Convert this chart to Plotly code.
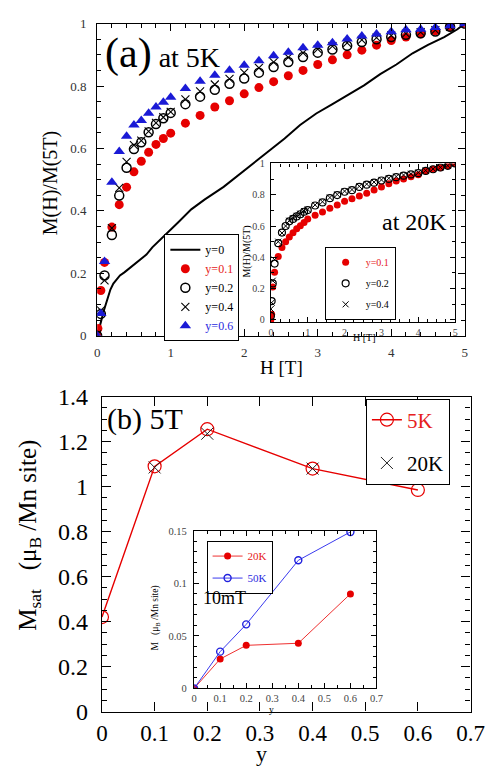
import plotly.graph_objects as go

W, H = 497, 770
FONT = "Liberation Serif, Times New Roman, serif"
RED = "#e60000"
BLUE = "#1a1ad6"

# ---------------- panel (a): M(H)/M(5T) at 5K ----------------
h_line = [0, 0.02, 0.05, 0.09, 0.13, 0.18, 0.22, 0.28, 0.31, 0.37, 0.45, 0.57, 0.67, 0.75,
          0.85, 0.95, 1.1, 1.28, 1.46, 1.72, 1.9, 2.1, 2.33, 2.55, 2.76, 2.98, 3.2, 3.42,
          3.63, 3.85, 4.07, 4.29, 4.5, 4.72, 4.9, 5.0]
m_y0 = [0, 0.015, 0.043, 0.08, 0.112, 0.148, 0.167, 0.183, 0.193, 0.203, 0.218, 0.24, 0.26,
        0.283, 0.305, 0.328, 0.363, 0.405, 0.436, 0.477, 0.51, 0.549, 0.59, 0.632, 0.675,
        0.712, 0.742, 0.772, 0.802, 0.838, 0.869, 0.905, 0.932, 0.957, 0.982, 1.0]

h_pts = [0, 0.05, 0.1, 0.2, 0.3, 0.4, 0.5, 0.6, 0.7, 0.8, 0.9, 1.0, 1.2, 1.4, 1.6, 1.8, 2.0,
         2.2, 2.4, 2.6, 2.8, 3.0, 3.2, 3.4, 3.6, 3.8, 4.0, 4.2, 4.4, 4.6, 4.8, 5.0]
h_red = [0, 0.01] + h_pts[1:]
m_y01 = [0.0, 0.023, 0.145, 0.235, 0.348, 0.42, 0.476, 0.525, 0.559, 0.588, 0.613, 0.632, 0.649,
         0.681, 0.706, 0.733, 0.753, 0.775, 0.795, 0.814, 0.833, 0.85, 0.869, 0.884, 0.9,
         0.915, 0.931, 0.946, 0.957, 0.967, 0.977, 0.99, 1.0]
m_y02 = [0.0, 0.07, 0.193, 0.323, 0.449, 0.538, 0.598, 0.62, 0.652, 0.678, 0.697, 0.714, 0.742,
         0.766, 0.788, 0.807, 0.824, 0.843, 0.861, 0.877, 0.893, 0.907, 0.917, 0.929, 0.941,
         0.95, 0.957, 0.964, 0.969, 0.975, 0.99, 1.0]
m_y04 = [0.004, 0.081, 0.177, 0.345, 0.474, 0.557, 0.611, 0.625, 0.655, 0.682, 0.70, 0.717,
         0.757, 0.783, 0.805, 0.823, 0.843, 0.858, 0.877, 0.892, 0.906, 0.918, 0.928, 0.938,
         0.948, 0.955, 0.962, 0.968, 0.973, 0.979, 0.99, 1.0]
m_y06 = [0.0, 0.071, 0.238, 0.492, 0.59, 0.639, 0.675, 0.69, 0.713, 0.733, 0.748, 0.764, 0.792,
         0.815, 0.835, 0.851, 0.867, 0.881, 0.897, 0.908, 0.923, 0.931, 0.939, 0.951, 0.96,
         0.967, 0.974, 0.98, 0.982, 0.988, 0.993, 1.0]

# inset (a): at 20K
h_in = [0, 0.02, 0.05, 0.1, 0.2, 0.3, 0.4, 0.5, 0.6, 0.7, 0.8, 0.9, 1.0, 1.2, 1.4, 1.6, 1.8,
        2.0, 2.2, 2.4, 2.6, 2.8, 3.0, 3.2, 3.4, 3.6, 3.8, 4.0, 4.2, 4.4, 4.6, 4.8, 5.0]
m20_y01 = [0.0, 0.035, 0.21, 0.305, 0.405, 0.463, 0.5, 0.53, 0.557, 0.582, 0.602, 0.623, 0.644,
           0.668, 0.69, 0.713, 0.735, 0.759, 0.775, 0.792, 0.81, 0.83, 0.85, 0.87, 0.887, 0.9,
           0.915, 0.928, 0.952, 0.963, 0.973, 0.984, 1.0]
m20_y02 = [0.025, 0.12, 0.233, 0.36, 0.49, 0.558, 0.6, 0.63, 0.645, 0.661, 0.675, 0.691, 0.702,
           0.731, 0.751, 0.778, 0.798, 0.819, 0.829, 0.85, 0.864, 0.877, 0.891, 0.901, 0.912,
           0.922, 0.93, 0.938, 0.952, 0.963, 0.974, 0.985, 1.0]
m20_y04 = [0.07, 0.11, 0.25, 0.385, 0.5, 0.555, 0.6, 0.634, 0.649, 0.665, 0.679, 0.695, 0.706,
           0.735, 0.755, 0.782, 0.802, 0.823, 0.833, 0.854, 0.868, 0.881, 0.895, 0.905, 0.916,
           0.926, 0.934, 0.942, 0.955, 0.965, 0.975, 0.986, 1.0]

# ---------------- panel (b): Msat at 5T ----------------
y_b = [0, 0.1, 0.2, 0.4, 0.6]
msat_5k = [0.42, 1.09, 1.255, 1.08, 0.985]
y_b20 = [0.1, 0.2, 0.4]
msat_20k = [1.085, 1.235, 1.08]

# inset (b): 10mT
y_in = [0, 0.1, 0.2, 0.4, 0.6]
m10_20k = [0, 0.028, 0.041, 0.043, 0.09]
m10_50k = [0, 0.035, 0.061, 0.122, 0.149]


def px(x):
    return x / W


def py(y):
    return 1 - y / H


fig = go.Figure()

# main (a)
fig.add_trace(go.Scatter(x=h_line, y=m_y0, mode="lines", name="y=0",
                         line=dict(color="black", width=2), xaxis="x", yaxis="y",
                         legend="legend"))
fig.add_trace(go.Scatter(x=h_red, y=m_y01, mode="markers",
                         name="<span style='color:#e62020'>y=0.1</span>",
                         marker=dict(symbol="circle", size=9, color=RED),
                         xaxis="x", yaxis="y", legend="legend"))
fig.add_trace(go.Scatter(x=h_pts, y=m_y02, mode="markers", name="y=0.2",
                         marker=dict(symbol="circle-open", size=9, color="black",
                                     line=dict(width=1.5)),
                         xaxis="x", yaxis="y", legend="legend"))
fig.add_trace(go.Scatter(x=h_pts, y=m_y04, mode="markers", name="y=0.4",
                         marker=dict(symbol="x-thin-open", size=8, color="black",
                                     line=dict(width=1.1)),
                         xaxis="x", yaxis="y", legend="legend"))
fig.add_trace(go.Scatter(x=h_pts, y=m_y06, mode="markers",
                         name="<span style='color:#2a2ae0'>y=0.6</span>",
                         marker=dict(symbol="triangle-up", size=10, color=BLUE),
                         xaxis="x", yaxis="y", legend="legend"))

# inset (a)
fig.add_trace(go.Scatter(x=h_in, y=m20_y01, mode="markers",
                         name="<span style='color:#e62020'>y=0.1</span>",
                         marker=dict(symbol="circle", size=7, color=RED),
                         xaxis="x2", yaxis="y2", legend="legend2", legendgroup="a",))
fig.add_trace(go.Scatter(x=h_in, y=m20_y02, mode="markers", name="y=0.2",
                         marker=dict(symbol="circle-open", size=7, color="black",
                                     line=dict(width=1.2)),
                         xaxis="x2", yaxis="y2", legend="legend2", legendgroup="b"))
fig.add_trace(go.Scatter(x=h_in, y=m20_y04, mode="markers", name="y=0.4",
                         marker=dict(symbol="x-thin-open", size=6, color="black",
                                     line=dict(width=1)),
                         xaxis="x2", yaxis="y2", legend="legend2", legendgroup="c"))

# main (b)
fig.add_trace(go.Scatter(x=y_b, y=msat_5k, mode="lines+markers",
                         name="<span style='color:#e62020'>5K</span>",
                         line=dict(color=RED, width=1.4),
                         marker=dict(symbol="circle-open", size=13, color=RED,
                                     line=dict(width=1.2)),
                         xaxis="x3", yaxis="y3", legend="legend3", legendgroup="d"))
fig.add_trace(go.Scatter(x=y_b20, y=msat_20k, mode="markers", name="20K",
                         marker=dict(symbol="x-thin-open", size=12, color="#222",
                                     line=dict(width=1)),
                         xaxis="x3", yaxis="y3", legend="legend3", legendgroup="e"))

# inset (b)
fig.add_trace(go.Scatter(x=y_in, y=m10_20k, mode="lines+markers",
                         name="<span style='color:#e62020'>20K</span>",
                         line=dict(color="#ee3030", width=1),
                         marker=dict(symbol="circle", size=7, color=RED),
                         xaxis="x4", yaxis="y4", legend="legend4", legendgroup="f"))
fig.add_trace(go.Scatter(x=y_in, y=m10_50k, mode="lines+markers",
                         name="<span style='color:#2a2ae0'>50K</span>",
                         line=dict(color="#3a3aee", width=1),
                         marker=dict(symbol="circle-open", size=7, color="#2020dd",
                                     line=dict(width=1.4)),
                         xaxis="x4", yaxis="y4", legend="legend4", legendgroup="g"))


def axis(domain, rng, dtick, mdtick, fs, color, anchor, ticklen=7, mlen=4, standoff=3):
    return dict(domain=domain, range=rng, dtick=dtick, tick0=0, anchor=anchor,
                showline=True, linecolor="black", linewidth=1.3, mirror="allticks",
                ticks="inside", ticklen=ticklen, tickwidth=1, tickcolor="black",
                minor=dict(dtick=mdtick, tick0=0, ticks="inside", ticklen=mlen,
                           tickcolor="black", tickwidth=1),
                showgrid=False, zeroline=False, fixedrange=True,
                tickfont=dict(family=FONT, size=fs, color=color),
                ticklabelstandoff=standoff)


layout = dict(
    width=W, height=H, autosize=False,
    margin=dict(l=0, r=0, t=0, b=0, pad=0),
    paper_bgcolor="white", plot_bgcolor="white",
    font=dict(family=FONT, color="black"),
    hovermode=False,
    xaxis=axis([px(95), px(478)], [0, 5], 1, 0.2, 13, "#333", "y", standoff=5),
    yaxis=axis([py(334), py(11)], [0, 1], 0.2, 0.05, 13, "#333", "x", standoff=7),
    xaxis2=axis([px(276), px(468)], [0, 5], 1, 0.25, 10, "#444", "y2", ticklen=5, mlen=3,
                standoff=1),
    yaxis2=axis([py(320), py(155.7)], [-0.015, 1], 0.2, 0.1, 10, "#444", "x2", ticklen=5,
                mlen=3, standoff=3),
    xaxis3=axis([px(100), px(484)], [0, 0.7], 0.1, 0.1, 23, "black", "y3", ticklen=9, mlen=0,
                standoff=1),
    yaxis3=axis([py(723), py(397)], [0, 1.4], 0.2, 0.05, 24, "black", "x3", ticklen=9, mlen=5,
                standoff=8),
    xaxis4=axis([px(196), px(386)], [0, 0.7], 0.1, 0.05, 10.5, "#444", "y4", ticklen=5,
                mlen=3, standoff=0),
    yaxis4=axis([py(699), py(536)], [0, 0.15], 0.05, 0.01, 10.5, "#444", "x4", ticklen=5,
                mlen=3, standoff=4),
)

leg_common = dict(bgcolor="white", bordercolor="black", borderwidth=1,
                  xanchor="left", yanchor="top", traceorder="grouped")
layout["legend"] = dict(x=px(165), y=py(229), font=dict(family=FONT, size=12, color="black"),
                        **leg_common)
layout["legend2"] = dict(x=px(332), y=py(242), font=dict(family=FONT, size=10, color="black"),
                         tracegroupgap=2, **leg_common)
layout["legend3"] = dict(x=px(375), y=py(399), font=dict(family=FONT, size=21, color="black"),
                         tracegroupgap=13, **leg_common)
layout["legend4"] = dict(x=px(209), y=py(546), font=dict(family=FONT, size=11, color="black"),
                         tracegroupgap=3, **leg_common)

ann = []


def text(t, x, y, size, xanchor="center", textangle=0, color="black"):
    ann.append(dict(text=t, x=px(x), y=py(y), xref="paper", yref="paper", showarrow=False,
                    xanchor=xanchor, yanchor="middle", textangle=textangle,
                    font=dict(family=FONT, size=size, color=color)))


text("<span style='font-size:42px'>(a)</span> at 5K", 101, 42, 28, xanchor="left")
text("at 20K", 426, 216, 24)
text("(b) 5T", 103, 420, 30, xanchor="left")
text("10mT", 228, 605, 18)
text("M(H)/M(5T)", 46, 176, 20, textangle=-90)
text("H [T]", 287, 367, 19)
text("M(H)/M(5T)", 251, 247, 10, textangle=-90)
text("H [T]", 374, 336, 10)
text("M<sub>sat</sub>   (μ<sub>B</sub> /Mn site)", 25, 540, 25, textangle=-90)
text("y", 266, 766, 22)
text("M   (μ<sub>B</sub> /Mn site)", 156, 626, 9.5, textangle=-90)
text("y", 277, 721, 9.5)
layout["annotations"] = ann

fig.update_layout(**layout)
fig.write_html("out.html", include_plotlyjs=True, config={"displayModeBar": False})
